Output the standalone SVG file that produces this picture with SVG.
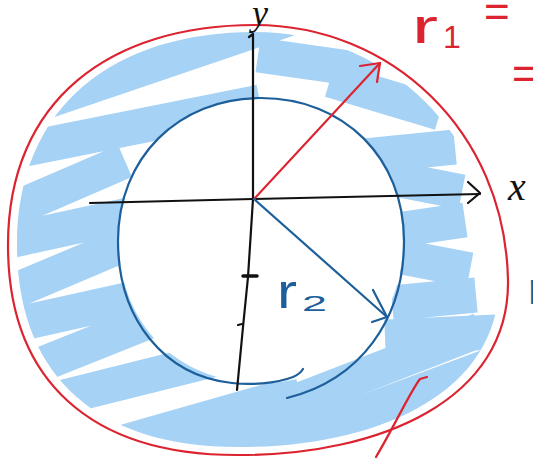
<svg xmlns="http://www.w3.org/2000/svg" width="533" height="459" viewBox="0 0 533 459">
<style>
.hl{fill:none;stroke:#a6d2f5;stroke-width:35;stroke-linecap:butt}
.red{fill:none;stroke:#dc2330;stroke-width:2.2;stroke-linecap:round;stroke-linejoin:round}
.blu{fill:none;stroke:#1d5f9a;stroke-width:2.2;stroke-linecap:round;stroke-linejoin:round}
.blk{fill:none;stroke:#111;stroke-width:2.2;stroke-linecap:round;stroke-linejoin:round}
.tr{fill:#dc2330;font-family:"Liberation Sans",sans-serif}
.tb{fill:#1d5f9a;font-family:"Liberation Sans",sans-serif}
.tk{fill:#111;font-family:"Liberation Serif",serif;font-style:italic}
</style>
<defs>
<clipPath id="ring">
<path clip-rule="evenodd" d="M255,32 C385,32 496,134 499,279 C501,394 376,447 241,447 C96,448 17,375 17,245 C17,105 115,32 255,32 Z M119,241 C119,158 178,99 261,99 C344,99 403,158 403,241 C403,324 344,383 261,383 C178,383 119,324 119,241 Z"/>
</clipPath>
</defs>
<rect width="533" height="459" fill="#fff"/>
<g id="shading" clip-path="url(#ring)">
<path class="hl" d="M0,117 L300,15 M0,154 L260,102 M0,215 L125,161 M0,243 L128,215 M0,297 L130,242 M0,328 L135,298 M0,381 L175,311 M0,413 L240,353 M40,466 L300,392 M150,458 L480,330 M150,492 L500,362 M258,55 L378,72 M330,80 L440,113 M355,157 L455,147 M385,177 L462,192 M390,231 L465,220 M392,255 L470,270 M392,303 L476,295 M385,337 L497,332"/>
</g>
<g id="outer-circle">
<path class="red" d="M255,25 C390,25 505,130 508,280 C510,400 380,455 240,455 C90,456 8,380 8,245 C8,100 110,25 255,25 Z"/>
</g>
<g id="inner-circle">
<path class="blu" d="M303,369 Q300,374 293,377 C275,384 250,385 232,383 C165,376 118,320 118,241 C118,158 178,98 261,98 C344,98 404,158 404,241 C404,320 360,380 287,398"/>
</g>
<g id="axes">
<path class="blk" d="M90,203 L253,199 L480,194"/>
<path class="blk" d="M468,182 L480,193 L468,203"/>
<path class="blk" d="M249,37 L253,34 L253,199 L248,277 L243,327 L237,390"/>
<path class="blk" d="M243,276 L257,276" style="stroke-width:3.5"/>
<path class="blk" d="M238,325 L242,324"/>
<text class="tk" x="252" y="25" font-size="36">y</text>
<text class="tk" x="508" y="200" font-size="40">x</text>
</g>
<g id="radius-r1">
<path class="red" d="M254,199 L380,63"/>
<path class="red" d="M360,66 L380,63 L377,82"/>
</g>
<g id="radius-r2">
<path class="blu" d="M254,199 L387,317"/>
<path class="blu" d="M373,290 L387,317 L372,322"/>
<text class="tb" x="277" y="308" font-size="48" textLength="20" lengthAdjust="spacingAndGlyphs">r</text>
<text class="tb" x="302" y="311" font-size="22" textLength="25" lengthAdjust="spacingAndGlyphs">2</text>
</g>
<g id="labels">
<text class="tr" x="412" y="43" font-size="48" textLength="26" lengthAdjust="spacingAndGlyphs">r</text>
<text class="tr" x="443" y="48" font-size="32">1</text>
<text class="tr" x="484" y="27" font-size="44">=</text>
<text class="tr" x="512" y="89" font-size="44">=</text>
<text class="tb" x="528" y="304" font-size="44">r</text>
<path class="red" d="M427,377 L420,379 C410,392 395,425 376,457"/>
</g>
</svg>
